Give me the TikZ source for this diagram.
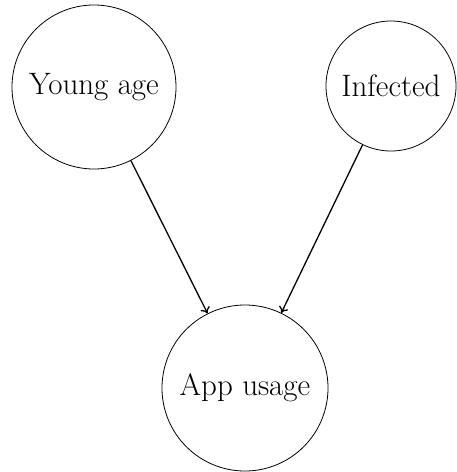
\documentclass[tikz,border=0pt]{standalone}
\usetikzlibrary{arrows.meta}
\begin{document}
\begin{tikzpicture}[x=1pt,y=-1pt,
  var/.style={circle,draw,line width=0.8pt,inner sep=0pt,
    font=\fontsize{31}{36}\selectfont},
  edge/.style={line width=1.3pt,-{To[length=6pt,width=10pt]}}]
  \useasboundingbox (0,0) rectangle (456,472);
  \node[var,minimum size=164pt] (young) at (94,87) {Young age};
  \node[var,minimum size=130pt] (inf) at (391,86) {Infected};
  \node[var,minimum size=166pt] (app) at (245,388) {App usage};
  \draw[edge] (young) -- (app);
  \draw[edge] (inf) -- (app);
\end{tikzpicture}
\end{document}
